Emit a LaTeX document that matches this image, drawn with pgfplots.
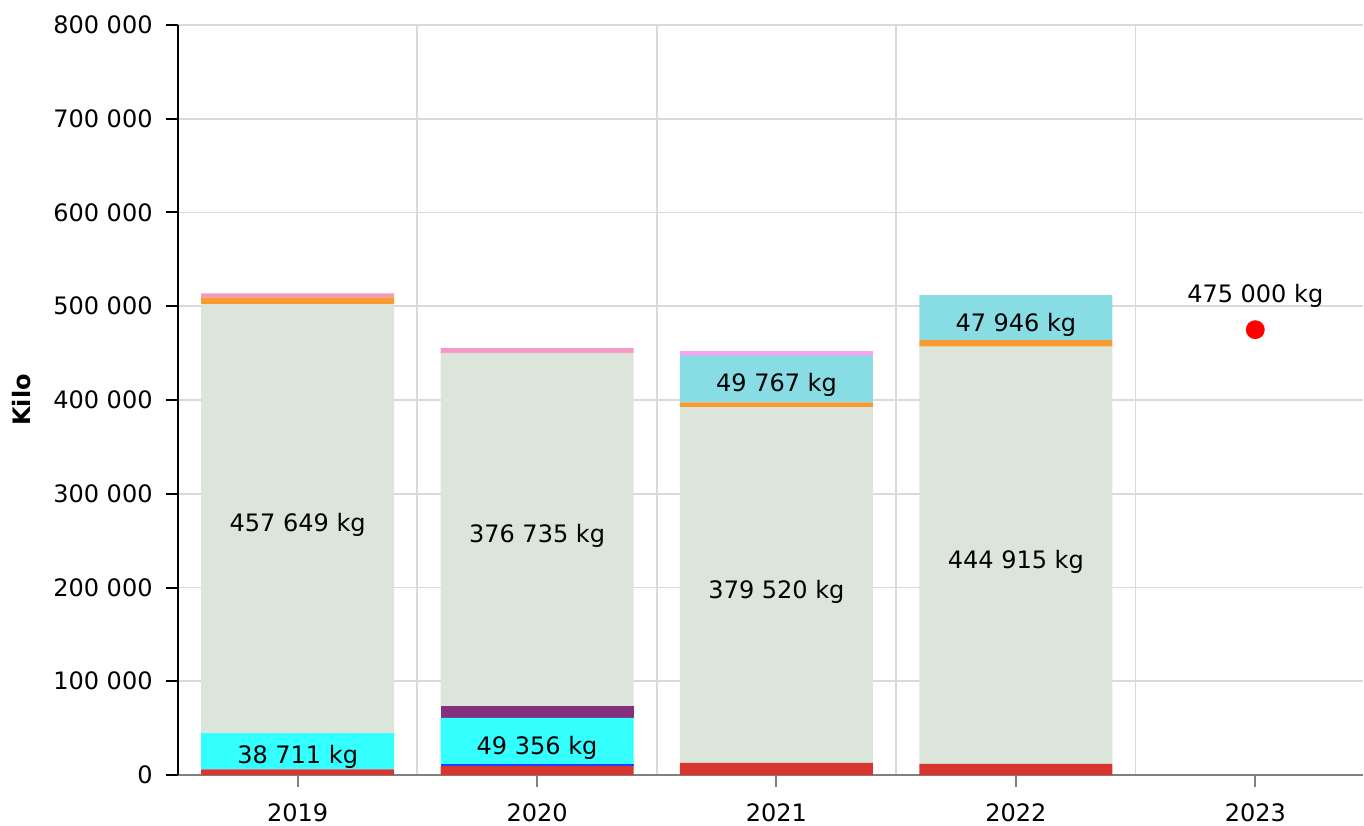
\documentclass[border=0pt]{standalone}
\usepackage{pgfplots}
\pgfplotsset{compat=1.18}
\usepackage{fontspec}
\setmainfont{DejaVu Sans}
\definecolor{cred}{HTML}{D73530}
\definecolor{cblue}{HTML}{2040FF}
\definecolor{ccyan}{HTML}{33FFFF}
\definecolor{cpurple}{HTML}{84307E}
\definecolor{cgreen}{HTML}{DCE5D9}
\definecolor{corange}{HTML}{FA9A32}
\definecolor{cteal}{HTML}{88DDE4}
\definecolor{cpink}{HTML}{F598C8}
\definecolor{clav}{HTML}{F4A6F4}
\definecolor{gridc}{HTML}{DADADA}
\definecolor{axgray}{HTML}{808080}
\begin{document}
\fontsize{12}{14}\selectfont
\begin{tikzpicture}
\useasboundingbox (0,0) rectangle (682pt,412.5pt);
\begin{axis}[
  at={(89pt,25pt)}, anchor=south west,
  scale only axis, width=592.5pt, height=375pt,
  xmin=-0.5, xmax=4.45, ymin=0, ymax=800000,
  ybar stacked, bar width=96.5pt,
  xtick={0,1,2,3,4}, xticklabels={2019,2020,2021,2022,2023},
  minor xtick={0.5,1.5,2.5,3.5},
  xminorgrids, ymajorgrids,
  minor grid style={gridc, line width=0.9pt},
  major grid style={gridc, line width=0.9pt},
  ytick={0,100000,200000,300000,400000,500000,600000,700000,800000},
  scaled y ticks=false,
  /pgf/number format/assume math mode=true,
  yticklabel style={/pgf/number format/fixed, /pgf/number format/1000 sep={\ }, xshift=-2.5pt},
  xticklabel style={yshift=-4pt},
  axis x line*=bottom, axis y line*=left,
  x axis line style={axgray, line width=1pt},
  y axis line style={black, line width=1pt},
  tick align=outside,
  major tick length=6pt, minor tick length=0pt,
  ytick style={black, line width=1pt},
  xtick style={axgray, line width=1pt},
  ylabel={\bfseries Kilo},
  every axis y label/.style={at={(rel axis cs:0,0.5)}, rotate=90, anchor=center, yshift=78pt},
]
\addplot[fill=cred, draw=none] coordinates {(0,6000) (1,9500) (2,13000) (3,12000)};
\addplot[fill=cblue, draw=none] coordinates {(0,0) (1,2000) (2,0) (3,0)};
\addplot[fill=ccyan, draw=none] coordinates {(0,38711) (1,49356) (2,0) (3,0)};
\addplot[fill=cpurple, draw=none] coordinates {(0,0) (1,12800) (2,0) (3,0)};
\addplot[fill=cgreen, draw=none] coordinates {(0,457649) (1,376735) (2,379520) (3,444915)};
\addplot[fill=corange, draw=none] coordinates {(0,7000) (1,0) (2,5000) (3,7000)};
\addplot[fill=cteal, draw=none] coordinates {(0,0) (1,0) (2,49767) (3,47946)};
\addplot[fill=cpink, draw=none] coordinates {(0,4500) (1,5000) (2,0) (3,0)};
\addplot[fill=clav, draw=none] coordinates {(0,0) (1,0) (2,5500) (3,0)};
\end{axis}
\begin{axis}[
  at={(89pt,25pt)}, anchor=south west,
  scale only axis, width=592.5pt, height=375pt,
  xmin=-0.5, xmax=4.45, ymin=0, ymax=800000,
  hide axis, clip=false,
]
\addplot[only marks, mark=*, mark size=4.5pt, color=red, fill=red] coordinates {(4,475000)};
\node at (axis cs:0,266700) {457 649 kg};
\node at (axis cs:0,19200) {38 711 kg};
\node at (axis cs:1,254900) {376 735 kg};
\node at (axis cs:1,28800) {49 356 kg};
\node at (axis cs:2,195200) {379 520 kg};
\node at (axis cs:2,416000) {49 767 kg};
\node at (axis cs:3,227200) {444 915 kg};
\node at (axis cs:3,480000) {47 946 kg};
\node at (axis cs:4,511000) {475 000 kg};
\end{axis}
\end{tikzpicture}
\end{document}
